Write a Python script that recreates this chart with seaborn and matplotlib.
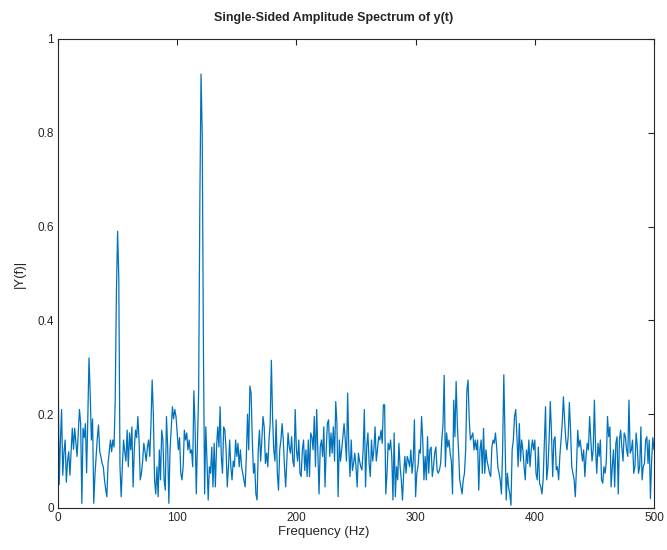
import numpy as np
import pandas as pd
import matplotlib
matplotlib.use("Agg")
import matplotlib.pyplot as plt
import seaborn as sns

# Amplitude values, one value per 1 Hz
amp_000_099 = [
    0.33, 0.05, 0.14, 0.21, 0.07, 0.12, 0.145, 0.055, 0.10, 0.12,
    0.07, 0.12, 0.17, 0.125, 0.17, 0.14, 0.11, 0.16, 0.21, 0.18,
    0.01, 0.17, 0.15, 0.18, 0.075, 0.19, 0.32, 0.245, 0.145, 0.19,
    0.01, 0.07, 0.11, 0.15, 0.177, 0.12, 0.11, 0.095, 0.088, 0.06,
    0.04, 0.024, 0.095, 0.12, 0.145, 0.12, 0.145, 0.13, 0.23, 0.46,
    0.59, 0.49, 0.088, 0.024, 0.09, 0.145, 0.12, 0.10, 0.166, 0.088,
    0.16, 0.124, 0.173, 0.045, 0.124, 0.166, 0.15, 0.195, 0.145, 0.06,
    0.074, 0.10, 0.138, 0.12, 0.10, 0.13, 0.145, 0.11, 0.18, 0.273,
    0.2, 0.06, 0.03, 0.088, 0.024, 0.124, 0.06, 0.166, 0.145, 0.06,
    0.038, 0.195, 0.13, 0.01, 0.124, 0.17, 0.216, 0.19, 0.21, 0.195,
]
amp_100_199 = [
    0.16, 0.124, 0.15, 0.074, 0.06, 0.088, 0.166, 0.145, 0.16, 0.124,
    0.145, 0.117, 0.124, 0.088, 0.25, 0.173, 0.03, 0.145, 0.25, 0.653,
    0.925, 0.795, 0.34, 0.03, 0.173, 0.10, 0.017, 0.088, 0.074, 0.13,
    0.045, 0.138, 0.045, 0.13, 0.173, 0.13, 0.216, 0.11, 0.074, 0.173,
    0.166, 0.124, 0.045, 0.088, 0.145, 0.088, 0.06, 0.10, 0.088, 0.145,
    0.11, 0.138, 0.088, 0.124, 0.088, 0.074, 0.06, 0.045, 0.11, 0.2,
    0.124, 0.26, 0.245, 0.145, 0.074, 0.095, 0.03, 0.017, 0.124, 0.166,
    0.10, 0.145, 0.195, 0.173, 0.095, 0.117, 0.088, 0.145, 0.18, 0.315,
    0.195, 0.124, 0.10, 0.188, 0.074, 0.038, 0.124, 0.145, 0.18, 0.145,
    0.088, 0.045, 0.10, 0.16, 0.13, 0.117, 0.152, 0.10, 0.088, 0.21,
]
amp_200_299 = [
    0.124, 0.10, 0.145, 0.074, 0.067, 0.124, 0.145, 0.08, 0.124, 0.067,
    0.145, 0.067, 0.16, 0.152, 0.124, 0.195, 0.088, 0.21, 0.124, 0.03,
    0.13, 0.145, 0.11, 0.173, 0.045, 0.124, 0.18, 0.188, 0.11, 0.16,
    0.117, 0.173, 0.10, 0.227, 0.18, 0.024, 0.145, 0.10, 0.124, 0.152,
    0.18, 0.145, 0.10, 0.245, 0.124, 0.067, 0.145, 0.08, 0.095, 0.117,
    0.088, 0.045, 0.117, 0.10, 0.088, 0.081, 0.124, 0.21, 0.045, 0.131,
    0.16, 0.095, 0.067, 0.145, 0.10, 0.124, 0.173, 0.10, 0.124, 0.152,
    0.145, 0.166, 0.138, 0.22, 0.22, 0.03, 0.074, 0.138, 0.124, 0.145,
    0.11, 0.017, 0.16, 0.024, 0.088, 0.06, 0.138, 0.088, 0.06, 0.017,
    0.074, 0.11, 0.074, 0.11, 0.10, 0.088, 0.124, 0.074, 0.10, 0.188,
]
amp_300_399 = [
    0.024, 0.074, 0.088, 0.124, 0.117, 0.195, 0.145, 0.06, 0.11, 0.06,
    0.152, 0.074, 0.124, 0.13, 0.067, 0.088, 0.117, 0.13, 0.081, 0.074,
    0.081, 0.095, 0.145, 0.18, 0.283, 0.088, 0.16, 0.13, 0.145, 0.117,
    0.10, 0.03, 0.23, 0.152, 0.27, 0.18, 0.124, 0.06, 0.045, 0.03,
    0.06, 0.074, 0.124, 0.25, 0.273, 0.188, 0.145, 0.152, 0.16, 0.124,
    0.145, 0.124, 0.145, 0.038, 0.124, 0.145, 0.074, 0.17, 0.074, 0.124,
    0.10, 0.088, 0.074, 0.067, 0.13, 0.145, 0.138, 0.16, 0.13, 0.088,
    0.074, 0.06, 0.03, 0.124, 0.284, 0.145, 0.017, 0.074, 0.045, 0.03,
    0.006, 0.124, 0.145, 0.195, 0.21, 0.152, 0.088, 0.18, 0.10, 0.145,
    0.124, 0.088, 0.06, 0.124, 0.095, 0.145, 0.088, 0.124, 0.145, 0.124,
]
amp_400_500 = [
    0.145, 0.074, 0.06, 0.13, 0.053, 0.045, 0.03, 0.06, 0.138, 0.216,
    0.06, 0.088, 0.145, 0.227, 0.16, 0.067, 0.145, 0.152, 0.081, 0.088,
    0.06, 0.11, 0.145, 0.18, 0.237, 0.188, 0.145, 0.124, 0.152, 0.225,
    0.166, 0.088, 0.074, 0.06, 0.024, 0.088, 0.166, 0.13, 0.145, 0.124,
    0.10, 0.124, 0.067, 0.11, 0.138, 0.124, 0.195, 0.145, 0.10, 0.124,
    0.23, 0.124, 0.074, 0.138, 0.11, 0.145, 0.06, 0.053, 0.088, 0.074,
    0.10, 0.195, 0.152, 0.173, 0.045, 0.088, 0.124, 0.045, 0.138, 0.152,
    0.03, 0.145, 0.166, 0.13, 0.10, 0.16, 0.152, 0.124, 0.11, 0.23,
    0.117, 0.124, 0.145, 0.074, 0.088, 0.16, 0.13, 0.074, 0.088, 0.173,
    0.06, 0.088, 0.095, 0.145, 0.152, 0.095, 0.145, 0.02, 0.10, 0.15,
    0.124,
]

amplitude = amp_000_099 + amp_100_199 + amp_200_299 + amp_300_399 + amp_400_500
frequency = np.arange(len(amplitude))  # 1 Hz spacing, 0..500 Hz

x_ticks = [0, 100, 200, 300, 400, 500]
y_ticks = [0, 0.2, 0.4, 0.6, 0.8, 1.0]
y_tick_labels = ["0", "0.2", "0.4", "0.6", "0.8", "1"]

title_text = "Single-Sided Amplitude Spectrum of y(t)"
x_label = "Frequency (Hz)"
y_label = "|Y(f)|"

df = pd.DataFrame({"f": frequency, "P1": amplitude})

sns.set_style("white")
plt.rcParams["font.family"] = ["Liberation Sans", "DejaVu Sans"]

fig = plt.figure(figsize=(6.67, 5.5), dpi=100)
ax = fig.add_axes([58 / 667, 42 / 550, 596 / 667, 469 / 550])

sns.lineplot(data=df, x="f", y="P1", ax=ax, estimator=None,
             color="#0072BD", linewidth=0.9)

ax.set_xlim(0, 500)
ax.set_ylim(0, 1)
ax.set_xticks(x_ticks)
ax.set_xticklabels([str(t) for t in x_ticks])
ax.set_yticks(y_ticks)
ax.set_yticklabels(y_tick_labels)

ax.tick_params(direction="in", top=True, right=True, length=4,
               width=0.8, labelsize=8.5, colors="#262626", pad=3)
for s in ax.spines.values():
    s.set_visible(True)
    s.set_color("#262626")
    s.set_linewidth(0.8)

ax.set_title(title_text, fontsize=9, fontweight="bold", pad=13,
             x=(333.5 - 58) / 596)
ax.set_xlabel(x_label, fontsize=9.5, labelpad=1)
ax.xaxis.label.set_x((324 - 58) / 596)
ax.set_ylabel(y_label, fontsize=9.5, labelpad=8)

fig.savefig("out.png", dpi=100)
